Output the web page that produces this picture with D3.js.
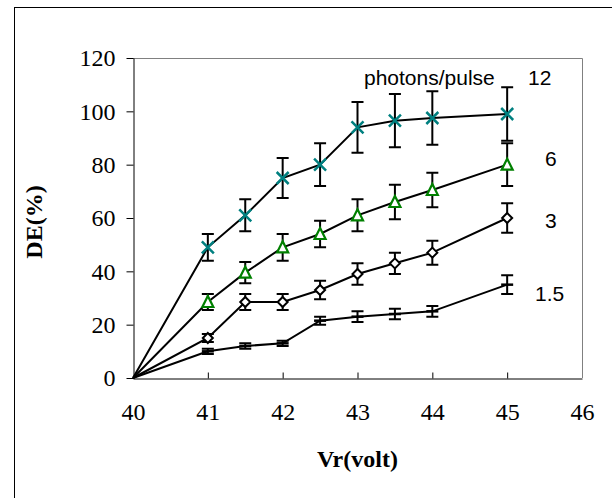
<!DOCTYPE html>
<html>
<head>
<meta charset="utf-8">
<script src="https://cdn.jsdelivr.net/npm/d3@7"></script>
<style>
  html, body { margin: 0; padding: 0; background: #fff; }
  svg { display: block; }
</style>
</head>
<body>
<svg id="chart" width="612" height="498"></svg>
<script>
// ---- data ----
const voltages = [40, 41, 41.5, 42, 42.5, 43, 43.5, 44, 45];
const series12 = [0, 49, 61, 75, 80, 94, 96.5, 97.5, 99];
const err12    = [0, 5, 6, 7.5, 8, 9.5, 10, 10, 10];
const series6  = [0, 28.5, 39.5, 49, 54, 61, 66, 70.5, 80];
const err6     = [0, 3, 4, 5, 5, 6, 6.5, 6.5, 8];
const series3  = [0, 15, 28.5, 28.5, 33, 39, 43, 47, 60];
const err3     = [0, 1.5, 3, 3, 3.5, 4, 4, 4.5, 5.5];
const series15 = [0, 10, 12, 13, 21.5, 23, 24, 25, 35];
const err15    = [0, 1, 1, 1, 1.5, 2, 2, 2, 3.5];
const seriesLabels = ["12", "6", "3", "1.5"];
const xTicks = [40, 41, 42, 43, 44, 45, 46];
const yTicks = [0, 20, 40, 60, 80, 100, 120];
const legendTitle = "photons/pulse";
const xTitle = "Vr(volt)";
const yTitle = "DE(%)";

// ---- layout ----
const svg = d3.select("#chart");
const pLeft = 133, pRight = 582, pTop = 58, pBottom = 378;
const x = d3.scaleLinear().domain([40, 46]).range([pLeft, pRight]);
const y = d3.scaleLinear().domain([0, 120]).range([pBottom, pTop]);

// outer frame
svg.append("rect").attr("x", 14.5).attr("y", 7.5).attr("width", 700).attr("height", 600)
  .attr("fill", "none").attr("stroke", "#000").attr("stroke-width", 1);

// plot frame top/right (grey)
svg.append("path")
  .attr("d", `M${pLeft},${pTop + 0.5}H${pRight + 0.5}V${pBottom}`)
  .attr("fill", "none").attr("stroke", "#808080").attr("stroke-width", 1);

const serif = "'Liberation Serif', 'Times New Roman', serif";
const sans = "'Liberation Sans', Arial, sans-serif";

// y axis
const yAxis = svg.append("g").attr("transform", `translate(${pLeft + 0.5},0)`)
  .call(d3.axisLeft(y).tickValues(yTicks).tickFormat(d3.format("d"))
    .tickSizeInner(7).tickSizeOuter(0).tickPadding(11));
yAxis.attr("font-family", null).attr("font-size", null);
yAxis.selectAll("text").style("font-family", serif).style("font-size", "24px").attr("fill", "#000");
yAxis.selectAll("line, path").attr("stroke", "#000");

// x axis
const xAxis = svg.append("g").attr("transform", `translate(0,${pBottom + 0.5})`)
  .call(d3.axisBottom(x).tickValues(xTicks).tickFormat(d3.format("d"))
    .tickSizeInner(-6).tickSizeOuter(0).tickPadding(24));
xAxis.attr("font-family", null).attr("font-size", null);
xAxis.selectAll("text").style("font-family", serif).style("font-size", "24px").attr("fill", "#000");
xAxis.selectAll("line, path").attr("stroke", "#000");
xAxis.selectAll(".tick").filter(d => d === 40 || d === 46).select("line").remove();

// titles
svg.append("text").attr("x", (pLeft + pRight) / 2).attr("y", 467)
  .attr("text-anchor", "middle").style("font-family", serif).style("font-weight", "bold")
  .style("font-size", "24px").text(xTitle);
svg.append("text").attr("transform", `translate(42,222) rotate(-90)`)
  .attr("text-anchor", "middle").style("font-family", serif).style("font-weight", "bold")
  .style("font-size", "24px").text(yTitle);

const allSeries = [
  { vals: series12, err: err12, marker: "x", color: "#008080" },
  { vals: series6, err: err6, marker: "tri", color: "#008000" },
  { vals: series3, err: err3, marker: "dia", color: "#000" },
  { vals: series15, err: err15, marker: "dash", color: "#000" }
];

const line = d3.line().x(d => x(d[0])).y(d => y(d[1]));
const capW = 6;

allSeries.forEach(s => {
  const pts = voltages.map((v, i) => [v, s.vals[i], s.err[i]]);
  svg.append("path").attr("d", line(pts)).attr("fill", "none")
    .attr("stroke", "#000").attr("stroke-width", 2);
  const eb = svg.append("g").attr("stroke", "#000").attr("stroke-width", 2).attr("fill", "none");
  pts.filter(p => p[2] > 0).forEach(p => {
    const cx = x(p[0]);
    eb.append("path").attr("d",
      `M${cx},${y(p[1] + p[2])}V${y(p[1] - p[2])}` +
      `M${cx - capW},${y(p[1] + p[2])}H${cx + capW}` +
      `M${cx - capW},${y(p[1] - p[2])}H${cx + capW}`);
  });
});

allSeries.forEach(s => {
  const g = svg.append("g");
  voltages.forEach((v, i) => {
    if (v === 40) return;
    const cx = x(v), cy = y(s.vals[i]);
    if (s.marker === "x") {
      g.append("path").attr("d", `M${cx-6},${cy-6}L${cx+6},${cy+6}M${cx-6},${cy+6}L${cx+6},${cy-6}`)
        .attr("stroke", s.color).attr("stroke-width", 2.5).attr("fill", "none");
    } else if (s.marker === "tri") {
      g.append("path").attr("d", `M${cx},${cy-6}L${cx+5.5},${cy+5}L${cx-5.5},${cy+5}Z`)
        .attr("stroke", s.color).attr("stroke-width", 2.2).attr("fill", "#fff");
    } else if (s.marker === "dia") {
      g.append("path").attr("d", `M${cx},${cy-5}L${cx+5},${cy}L${cx},${cy+5}L${cx-5},${cy}Z`)
        .attr("stroke", s.color).attr("stroke-width", 2).attr("fill", "#fff");
    } else {
      g.append("path").attr("d", `M${cx-6},${cy}H${cx+6}`)
        .attr("stroke", s.color).attr("stroke-width", 2.5);
    }
  });
});

// series labels
svg.append("text").attr("x", 364).attr("y", 85).style("font-family", sans).style("font-size", "21px")
  .text(legendTitle);
const labelPos = [[528, 85], [545, 166], [545, 228], [535, 301]];
seriesLabels.forEach((t, i) => {
  svg.append("text").attr("x", labelPos[i][0]).attr("y", labelPos[i][1])
    .style("font-family", sans).style("font-size", "21px").text(t);
});
</script>
</body>
</html>
